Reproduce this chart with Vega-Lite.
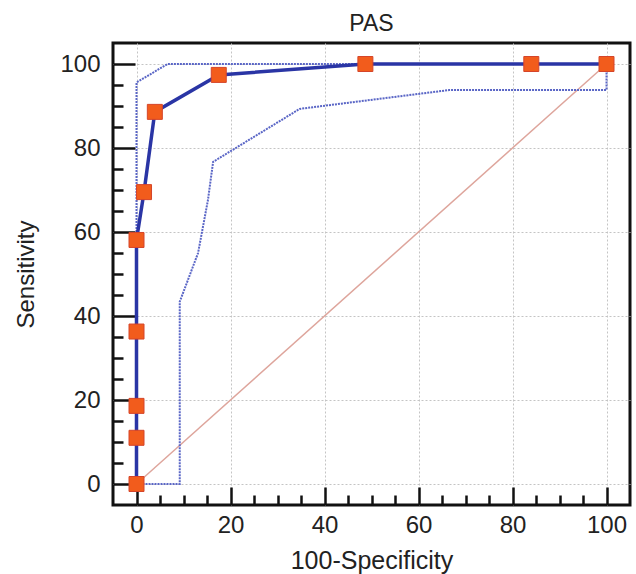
{
  "$schema": "https://vega.github.io/schema/vega-lite/v6.json",
  "width": 517,
  "height": 462,
  "autosize": "none",
  "padding": {"left": 113, "top": 43, "right": 6, "bottom": 69},
  "background": "white",
  "title": {"text": "PAS", "fontSize": 23, "font": "Liberation Sans", "fontWeight": "normal", "color": "#222", "offset": 7},
  "config": {
    "view": {"stroke": "#111", "strokeWidth": 3},
    "axis": {
      "domain": false,
      "labelFont": "Liberation Sans",
      "labelFontSize": 24,
      "labelColor": "#222",
      "titleFont": "Liberation Sans",
      "titleFontWeight": "normal",
      "titleColor": "#222",
      "tickColor": "#111",
      "tickWidth": 2.5,
      "grid": true,
      "gridDash": [2, 2],
      "gridWidth": 1,
      "gridColor": {"condition": {"test": "datum.value % 20 === 0", "value": "#c4c4c4"}, "value": "transparent"},
      "labelExpr": "datum.value % 20 === 0 ? datum.label : ''"
    }
  },
  "datasets": {
    "pts": [
      {"s": "roc", "o": 1, "x": 0, "y": 0},
      {"s": "roc", "o": 2, "x": 0, "y": 11},
      {"s": "roc", "o": 3, "x": 0, "y": 18.6},
      {"s": "roc", "o": 4, "x": 0, "y": 36.3},
      {"s": "roc", "o": 5, "x": 0, "y": 58.1},
      {"s": "roc", "o": 6, "x": 1.6, "y": 69.5},
      {"s": "roc", "o": 7, "x": 3.9, "y": 88.6},
      {"s": "roc", "o": 8, "x": 17.5, "y": 97.4},
      {"s": "roc", "o": 9, "x": 48.7, "y": 100},
      {"s": "roc", "o": 10, "x": 84, "y": 100},
      {"s": "roc", "o": 11, "x": 100, "y": 100},
      {"s": "upper", "o": 1, "x": 0, "y": 0},
      {"s": "upper", "o": 2, "x": 0, "y": 95.6},
      {"s": "upper", "o": 3, "x": 6.6, "y": 100},
      {"s": "upper", "o": 4, "x": 100, "y": 100},
      {"s": "lower", "o": 1, "x": 0, "y": 0},
      {"s": "lower", "o": 2, "x": 9.2, "y": 0},
      {"s": "lower", "o": 3, "x": 9.2, "y": 43.4},
      {"s": "lower", "o": 4, "x": 13.1, "y": 55},
      {"s": "lower", "o": 5, "x": 15.2, "y": 67.6},
      {"s": "lower", "o": 6, "x": 16.3, "y": 76.7},
      {"s": "lower", "o": 7, "x": 34.7, "y": 89.3},
      {"s": "lower", "o": 8, "x": 51.7, "y": 91.7},
      {"s": "lower", "o": 9, "x": 66.5, "y": 93.8},
      {"s": "lower", "o": 10, "x": 100, "y": 93.8},
      {"s": "lower", "o": 11, "x": 100, "y": 100},
      {"s": "diag", "o": 1, "x": 0, "y": 0},
      {"s": "diag", "o": 2, "x": 100, "y": 100}
    ]
  },
  "data": {"name": "pts"},
  "encoding": {
    "x": {"field": "x", "type": "quantitative", "scale": {"domain": [-5, 105], "nice": false, "zero": false},
      "axis": {"values": [0,5,10,15,20,25,30,35,40,45,50,55,60,65,70,75,80,85,90,95,100], "title": "100-Specificity", "titleFontSize": 25, "labelPadding": 26, "titlePadding": 11,
        "tickSize": {"condition": {"test": "datum.value % 20 === 0", "value": -18}, "value": -10}}},
    "y": {"field": "y", "type": "quantitative", "scale": {"domain": [-5, 105], "nice": false, "zero": false},
      "axis": {"values": [0,5,10,15,20,25,30,35,40,45,50,55,60,65,70,75,80,85,90,95,100], "title": "Sensitivity", "titleFontSize": 24, "labelPadding": 35, "titlePadding": 21,
        "tickSize": {"condition": {"test": "datum.value % 20 === 0", "value": -22}, "value": -10}}}
  },
  "layer": [
    {"transform": [{"filter": "datum.s === 'diag'"}], "mark": {"type": "line", "color": "#dea59c", "strokeWidth": 1.5}, "encoding": {"order": {"field": "o"}}},
    {"transform": [{"filter": "datum.s === 'upper' || datum.s === 'lower'"}], "mark": {"type": "line", "color": "#5a66c6", "strokeWidth": 2, "strokeDash": [2, 1]}, "encoding": {"detail": {"field": "s"}, "order": {"field": "o"}}},
    {"transform": [{"filter": "datum.s === 'roc'"}], "mark": {"type": "line", "color": "#2a35a5", "strokeWidth": 3.5}, "encoding": {"order": {"field": "o"}}},
    {"transform": [{"filter": "datum.s === 'roc'"}], "mark": {"type": "point", "shape": "square", "size": 225, "filled": true, "color": "#f25c1c", "stroke": "#d5452a", "strokeWidth": 1, "opacity": 1}}
  ]
}
